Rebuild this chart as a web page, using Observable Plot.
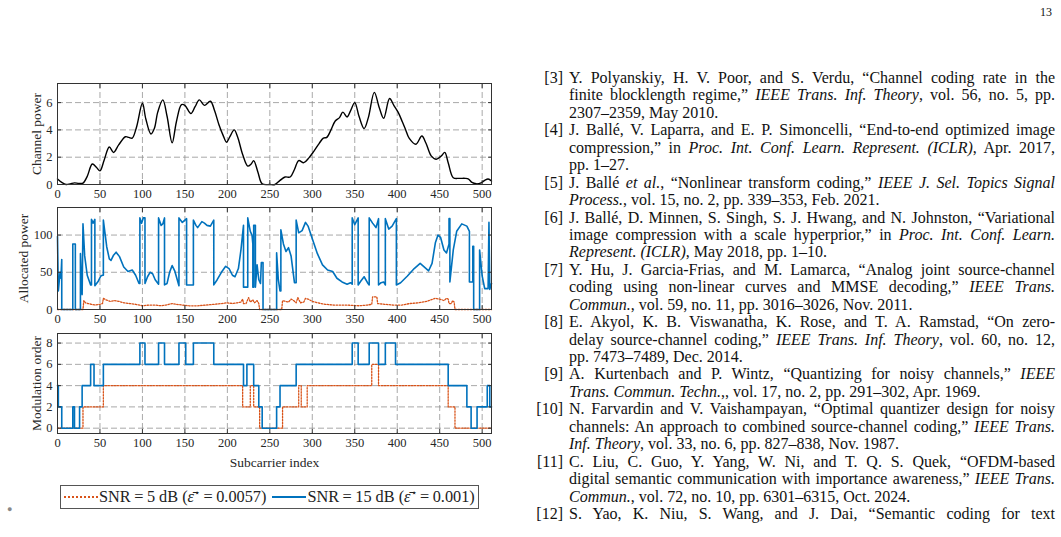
<!DOCTYPE html>
<html><head><meta charset="utf-8">
<script src="https://cdn.jsdelivr.net/npm/d3@7"></script>
<script src="https://cdn.jsdelivr.net/npm/@observablehq/plot@0.6"></script>
<style>
html,body{margin:0;padding:0;background:#fff;}
body{width:1061px;height:537px;overflow:hidden;position:relative;font-family:"Liberation Serif","Times New Roman",serif;color:#111;}
.panel{position:absolute;left:0;}
.panel svg{display:block;font-family:"Liberation Serif","Times New Roman",serif !important;}
.panel svg text{font-family:"Liberation Serif","Times New Roman",serif !important;}
#pageno{position:absolute;right:9px;top:5px;font-size:12px;}
#dot{position:absolute;left:7px;top:504px;font-size:9px;color:#888;}
#legend{position:absolute;left:60px;top:485px;width:417px;height:22px;border:1px solid #555;display:flex;align-items:center;font-size:16.3px;color:#222;white-space:nowrap;}
#legend .sw{display:inline-block;width:34px;height:0;margin-right:1px;}
#legend .dotted{border-top:2px dotted #D95319;margin-left:3px;}
#legend .solid{border-top:2px solid #0072BD;margin-left:6px;}
#legend .eq{margin:0 3.5px;}
#refs{position:absolute;left:569px;top:69px;width:486px;font-size:16px;line-height:17.45px;color:#111;}
#refs .ln{position:relative;height:17.45px;white-space:nowrap;}
#refs .lab{position:absolute;right:492px;top:0;}
</style></head><body>
<div id="pageno">13</div>
<div class="panel" id="p1" style="top:78px"></div>
<div class="panel" id="p2" style="top:202px"></div>
<div class="panel" id="p3" style="top:328px"></div>
<div id="legend"></div>
<div id="dot">●</div>
<div id="refs"></div>
<script>
// ---------- data ----------
const xTicks = [0, 50, 100, 150, 200, 250, 300, 350, 400, 450, 500];
const powerTicks = [0, 2, 4, 6];
const allocTicks = [0, 50, 100];
const orderTicks = [0, 2, 4, 6, 8];

const seriesNames = ["SNR", "SNR"];
const seriesSnr = ["5 dB", "15 dB"];
const seriesEps = ["0.0057", "0.001"];
const seriesColors = ["#D95319", "#0072BD"];

// channel power (subcarrier index, value)
const channelIdx = [0,5,10,15,20,25,30,35,41,46,50,55,61,66,72,80,84,88,93,100,104,110,114,118,124,129,135,140,146,150,157,162,167,173,180,185,190,195,199,203,208,212,218,224,228,231,236,241,250,256,262,268,274,279,284,290,296,302,308,313,317,322,327,332,336,341,345,350,355,361,366,373,379,384,391,396,401,406,410,414,422,429,434,440,446,452,456,460,466,473,480,484,488,493,498,503,507,511];
const channelPower = [0.4,0.15,0.0,0.05,0.12,0.08,0.1,0.6,1.5,1.25,1.0,1.8,2.75,2.35,2.9,3.5,3.45,3.4,4.2,5.95,4.8,3.7,4.1,5.3,6.2,5.0,3.05,4.6,5.85,5.8,5.2,5.7,6.2,5.8,6.1,5.4,4.4,3.6,3.1,3.5,4.0,3.5,2.2,1.35,1.5,1.75,0.9,0.05,0.0,0.0,0.3,0.55,0.55,1.1,1.75,1.6,1.95,2.45,3.0,3.4,3.45,4.0,4.65,4.9,5.3,4.95,5.4,6.0,5.0,4.1,4.9,6.75,5.6,4.85,6.3,5.8,5.3,4.6,4.0,3.4,2.95,3.55,3.0,2.1,1.85,2.1,2.35,1.6,0.5,0.45,0.45,0.4,0.15,0.05,0.1,0.3,0.4,0.25];

// allocated power, SNR = 15 dB  [index, power]
const alloc15 = [[0,98],[1,25],[3,50],[4,42],[5,67],[5,0],[18,0],[18,88],[21,88],[21,0],[27,0],[27,75],[28,40],[29,20],[30,115],[32,72],[35,46],[39,33],[40,33],[40,121],[42,116],[44,121],[44,32],[48,38],[51,45],[53,46],[54,46],[54,120],[56,102],[58,84],[61,68],[63,66],[66,73],[69,77],[73,71],[78,57],[83,51],[88,53],[92,46],[96,35],[97,35],[97,123],[99,116],[101,123],[103,123],[103,35],[106,44],[109,50],[112,48],[115,40],[119,34],[119,123],[122,113],[124,115],[126,123],[126,33],[129,35],[132,50],[135,59],[138,52],[141,40],[143,32],[143,123],[147,117],[150,120],[152,122],[152,33],[160,33],[160,120],[163,113],[165,110],[170,118],[173,116],[176,113],[180,112],[184,120],[184,33],[188,40],[193,50],[198,58],[202,55],[206,46],[209,44],[213,55],[216,80],[219,113],[219,30],[224,30],[224,123],[227,105],[229,100],[230,88],[230,30],[231,30],[231,113],[233,113],[233,30],[235,60],[237,40],[239,35],[240,63],[242,63],[242,0],[258,0],[258,76],[260,40],[262,25],[263,25],[263,107],[266,88],[269,78],[272,83],[275,72],[279,36],[281,36],[281,120],[284,103],[288,106],[292,117],[295,112],[300,95],[306,75],[312,60],[318,53],[324,51],[329,42],[335,37],[341,34],[345,36],[347,34],[347,123],[350,114],[354,123],[354,33],[357,38],[361,44],[365,36],[367,33],[367,123],[371,116],[375,110],[378,122],[378,33],[381,36],[384,37],[386,33],[386,122],[390,108],[394,112],[399,122],[399,33],[404,36],[412,45],[420,55],[427,62],[433,56],[437,52],[441,62],[445,90],[448,100],[451,97],[455,80],[458,76],[461,88],[461,122],[462,122],[462,37],[466,80],[470,105],[476,115],[482,112],[485,105],[485,37],[489,37],[489,85],[490,85],[490,0],[497,0],[497,80],[500,45],[503,28],[507,28],[508,117],[509,27],[511,35]];

// allocated power, SNR = 5 dB  [index, power]
const alloc5 = [[0,0],[30,0],[31,12],[33,9],[36,8],[40,7],[45,6],[50,7],[53,8],[54,15],[57,13],[62,11],[67,12],[72,11],[78,9],[85,8],[92,7],[100,5],[108,6],[115,6],[122,5],[128,6],[135,8],[140,7],[147,6],[155,5],[165,5],[175,6],[185,7],[193,8],[200,9],[206,8],[212,9],[216,10],[218,14],[219,8],[222,8],[225,16],[227,10],[230,13],[232,9],[235,12],[237,8],[238,0],[264,0],[265,12],[268,11],[272,10],[275,14],[278,12],[281,9],[283,16],[286,9],[290,10],[292,15],[295,14],[300,11],[306,9],[315,7],[325,6],[340,6],[355,5],[365,6],[370,7],[371,17],[376,17],[377,8],[385,7],[395,6],[405,6],[415,8],[425,9],[435,11],[445,15],[450,14],[455,12],[458,15],[460,14],[461,8],[464,8],[465,12],[467,10],[468,0],[511,0]];

// modulation order (step start index, order)
const order15Start = [0,1,5,18,20,26,29,39,43,54,97,103,119,126,143,151,160,184,219,223,231,237,241,258,262,281,347,354,367,378,386,398,460,482,487,494,506,509,511];
const order15 = [4,2,0,2,0,2,4,6,4,6,8,6,8,6,8,6,8,6,4,6,4,2,0,2,4,6,8,6,8,6,8,6,4,2,0,2,4,2,2];
const order5Start = [0,30,54,218,227,231,238,265,284,287,294,370,378,460,468,511];
const order5 = [0,2,4,2,4,2,0,2,4,2,4,6,4,2,0,0];

// ---------- chart ----------
const FONT = '"Liberation Serif", "Times New Roman", serif';
const gridStyle = {stroke: "#8c8c8c", strokeOpacity: 0.75, strokeDasharray: "6,3"};

function panel({lines, yDomain, yTicks, yLabel, yLabelDx, height, marginBottom, xLabel}) {
  return Plot.plot({
    width: 500, height, marginLeft: 57, marginRight: 9, marginTop: 5, marginBottom,
    style: {fontFamily: FONT, fontSize: "12.5px", color: "#262626", background: "transparent", overflow: "visible"},
    x: {domain: [0, 511]},
    y: {domain: yDomain},
    marks: [
      Plot.gridX(xTicks, gridStyle),
      Plot.gridY(yTicks, gridStyle),
      ...lines,
      Plot.frame({stroke: "#333", strokeWidth: 1}),
      Plot.axisX(xTicks, {anchor: "bottom", tickSize: 0, tickPadding: 5, label: null}),
      Plot.axisX(xTicks, {anchor: "bottom", tickSize: -4, tickFormat: () => "", label: null, stroke: "#333"}),
      Plot.axisX(xTicks, {anchor: "top", tickSize: -4, tickFormat: () => "", label: null, stroke: "#333"}),
      Plot.axisY(yTicks, {anchor: "left", tickSize: 0, tickPadding: 5, label: null}),
      Plot.axisY(yTicks, {anchor: "left", tickSize: -4, tickFormat: () => "", label: null, stroke: "#333"}),
      Plot.axisY(yTicks, {anchor: "right", tickSize: -4, tickFormat: () => "", label: null, stroke: "#333"}),
      Plot.text([yLabel], {frameAnchor: "left", rotate: -90, dx: yLabelDx, textAnchor: "middle", fontSize: 13.5, fill: "#262626"}),
      xLabel ? Plot.text([xLabel], {frameAnchor: "bottom", dy: 29, textAnchor: "middle", lineAnchor: "middle", fontSize: 13.5, fill: "#262626"}) : null
    ]
  });
}

const channelData = channelIdx.map((x, i) => ({x, y: channelPower[i]}));
const orderData15 = order15Start.map((x, i) => ({x, y: order15[i]}));
const orderData5 = order5Start.map((x, i) => ({x, y: order5[i]}));

document.getElementById("p1").append(panel({
  lines: [Plot.line(channelData, {x: "x", y: "y", stroke: "#000", strokeWidth: 1.4, curve: "catmull-rom"})],
  yDomain: [0, 7.4], yTicks: powerTicks, yLabel: "Channel power", yLabelDx: -21, height: 128, marginBottom: 22
}));

document.getElementById("p2").append(panel({
  lines: [
    Plot.line(alloc5, {x: d => d[0], y: d => d[1], stroke: seriesColors[0], strokeWidth: 1.3, strokeDasharray: "1.5,1.5"}),
    Plot.line(alloc15, {x: d => d[0], y: d => d[1], stroke: seriesColors[1], strokeWidth: 1.6})
  ],
  yDomain: [0, 137], yTicks: allocTicks, yLabel: "Allocated power", yLabelDx: -34, height: 129, marginBottom: 22
}));

document.getElementById("p3").append(panel({
  lines: [
    Plot.line(orderData5, {x: "x", y: "y", curve: "step-after", stroke: seriesColors[0], strokeWidth: 1.3, strokeDasharray: "1.5,1.5"}),
    Plot.line(orderData15, {x: "x", y: "y", curve: "step-after", stroke: seriesColors[1], strokeWidth: 1.6})
  ],
  yDomain: [-0.5, 8.9], yTicks: orderTicks, yLabel: "Modulation order", yLabelDx: -21, height: 145, marginBottom: 40,
  xLabel: "Subcarrier index"
}));

// legend
const legend = document.getElementById("legend");
seriesNames.forEach((name, i) => {
  const sw = document.createElement("span");
  sw.className = "sw " + (i === 0 ? "dotted" : "solid");
  legend.append(sw);
  const t = document.createElement("span");
  t.innerHTML = `${name}<span class="eq">=</span>${seriesSnr[i]} (<i>ε̄</i><sup style="font-size:10px">⋆</sup><span class="eq">=</span>${seriesEps[i]})`;
  legend.append(t);
});

// references
const refs = [
 ["[3]", ["Y. Polyanskiy, H. V. Poor, and S. Verdu, “Channel coding rate in the", "finite blocklength regime,” <i>IEEE Trans. Inf. Theory</i>, vol. 56, no. 5, pp.", "2307–2359, May 2010."]],
 ["[4]", ["J. Ballé, V. Laparra, and E. P. Simoncelli, “End-to-end optimized image", "compression,” in <i>Proc. Int. Conf. Learn. Represent. (ICLR)</i>, Apr. 2017,", "pp. 1–27."]],
 ["[5]", ["J. Ballé <i>et al.</i>, “Nonlinear transform coding,” <i>IEEE J. Sel. Topics Signal</i>", "<i>Process.</i>, vol. 15, no. 2, pp. 339–353, Feb. 2021."]],
 ["[6]", ["J. Ballé, D. Minnen, S. Singh, S. J. Hwang, and N. Johnston, “Variational", "image compression with a scale hyperprior,” in <i>Proc. Int. Conf. Learn.</i>", "<i>Represent. (ICLR)</i>, May 2018, pp. 1–10."]],
 ["[7]", ["Y. Hu, J. Garcia-Frias, and M. Lamarca, “Analog joint source-channel", "coding using non-linear curves and MMSE decoding,” <i>IEEE Trans.</i>", "<i>Commun.</i>, vol. 59, no. 11, pp. 3016–3026, Nov. 2011."]],
 ["[8]", ["E. Akyol, K. B. Viswanatha, K. Rose, and T. A. Ramstad, “On zero-", "delay source-channel coding,” <i>IEEE Trans. Inf. Theory</i>, vol. 60, no. 12,", "pp. 7473–7489, Dec. 2014."]],
 ["[9]", ["A. Kurtenbach and P. Wintz, “Quantizing for noisy channels,” <i>IEEE</i>", "<i>Trans. Commun. Techn.</i>,, vol. 17, no. 2, pp. 291–302, Apr. 1969."]],
 ["[10]", ["N. Farvardin and V. Vaishampayan, “Optimal quantizer design for noisy", "channels: An approach to combined source-channel coding,” <i>IEEE Trans.</i>", "<i>Inf. Theory</i>, vol. 33, no. 6, pp. 827–838, Nov. 1987."]],
 ["[11]", ["C. Liu, C. Guo, Y. Yang, W. Ni, and T. Q. S. Quek, “OFDM-based", "digital semantic communication with importance awareness,” <i>IEEE Trans.</i>", "<i>Commun.</i>, vol. 72, no. 10, pp. 6301–6315, Oct. 2024."]],
 ["[12]", ["S. Yao, K. Niu, S. Wang, and J. Dai, “Semantic coding for text"], true]
];
const refsEl = document.getElementById("refs");
const W = 486;
refs.forEach(([lab, lines, cont]) => {
  lines.forEach((html, j) => {
    const ln = document.createElement("div");
    ln.className = "ln";
    if (j === 0) {
      const l = document.createElement("span");
      l.className = "lab"; l.textContent = lab;
      ln.append(l);
    }
    const s = document.createElement("span");
    s.innerHTML = html;
    ln.append(s);
    refsEl.append(ln);
    const justify = j < lines.length - 1 || cont;
    const w = s.getBoundingClientRect().width;
    const n = (s.textContent.match(/ /g) || []).length;
    if (n > 0 && (justify || w > W)) s.style.wordSpacing = ((W - w) / n) + "px";
  });
});
</script>
</body></html>
